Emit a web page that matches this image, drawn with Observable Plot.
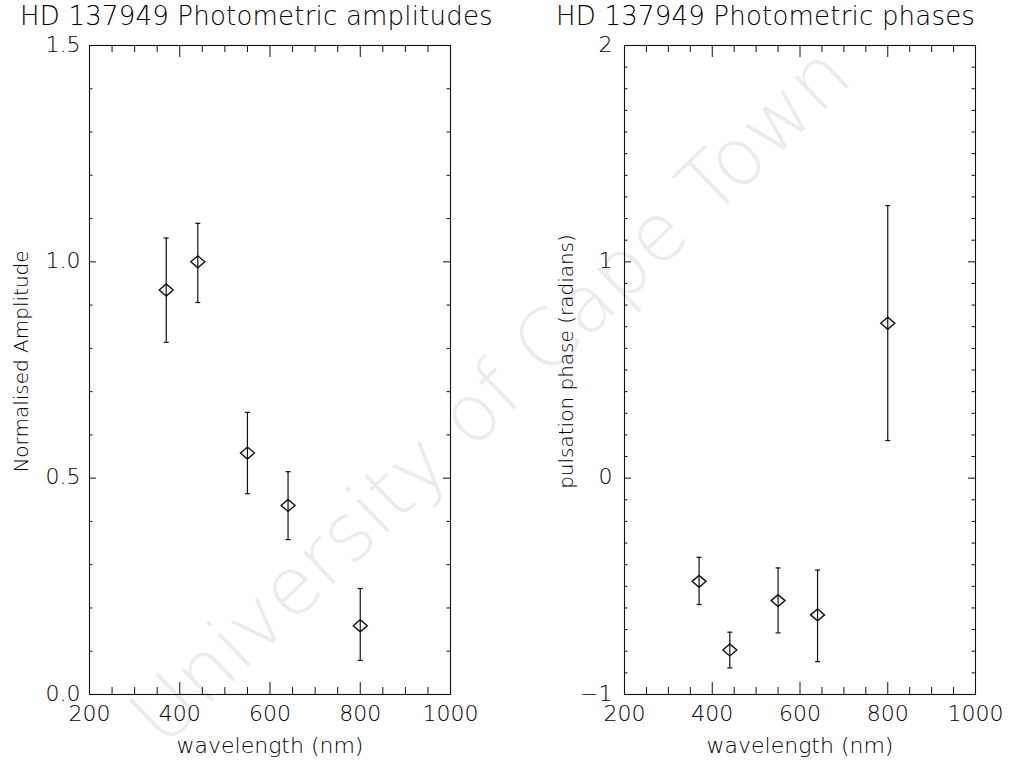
<!DOCTYPE html>
<html>
<head>
<meta charset="utf-8">
<script src="https://cdn.jsdelivr.net/npm/d3@7"></script>
<script src="https://cdn.jsdelivr.net/npm/@observablehq/plot@0.6"></script>
<style>
  html, body { margin: 0; padding: 0; background: #fff; }
  #wrap { position: relative; width: 1035px; height: 764px; overflow: hidden; background: #fff;
          font-family: "DejaVu Sans", sans-serif; color: #000; }
  .title { position: absolute; top: 4px; font-size: 26px; line-height: 24px; height: 24px; font-weight: 300; white-space: nowrap; letter-spacing: 0.2px; color: #000; }
  .wm { position: absolute; left: 490px; top: 395px; transform: translate(-50%, -50%) rotate(-44deg);
        font-size: 80px; color: #ececec; white-space: nowrap; font-family: "DejaVu Sans", sans-serif; font-weight: 300; z-index: 0; }
  .panel { position: absolute; top: 0; z-index: 1; }
  .panel svg { background: transparent !important; }
</style>
</head>
<body>
<div id="wrap">
  <div class="wm">University of Cape Town</div>
  <div class="title" style="left:20px;">HD 137949 Photometric amplitudes</div>
  <div class="title" style="left:556px;">HD 137949 Photometric phases</div>
  <div id="p1" class="panel" style="left:0px;"></div>
  <div id="p2" class="panel" style="left:505px;"></div>
</div>
<script>
// ---- data ----
const wavelengths = [370, 440, 550, 640, 800];
const amplitude   = [0.935, 1.000, 0.558, 0.437, 0.159];
const ampLow      = [0.814, 0.906, 0.464, 0.358, 0.079];
const ampHigh     = [1.055, 1.089, 0.652, 0.515, 0.245];
const phase       = [-0.477, -0.794, -0.566, -0.632, 0.716];
const phaseLow    = [-0.584, -0.877, -0.715, -0.848, 0.174];
const phaseHigh   = [-0.366, -0.712, -0.415, -0.425, 1.260];

const xTickLabels = [200, 400, 600, 800, 1000];
const ampTickLabels = [0, 0.5, 1.0, 1.5];
const phaseTickLabels = [-1, 0, 1, 2];

// ---- helpers ----
const diamond = { draw(ctx) { ctx.moveTo(-7, 0); ctx.lineTo(0, -6); ctx.lineTo(7, 0); ctx.lineTo(0, 6); ctx.closePath(); } };
const cap = { draw(ctx) { ctx.moveTo(-2.5, 0); ctx.lineTo(2.5, 0); } };

const H = 764, MT = 45, MB = 70;
const innerH = H - MT - MB;
const fontFamily = "DejaVu Sans, sans-serif";

function panel({el, width, marginLeft, marginRight, yDomain, yMajor, yMinorStep, yFmt, lo, v, hi, labelPad}) {
  const innerW = width - marginLeft - marginRight;
  const rows = wavelengths.map((w, i) => ({w, lo: lo[i], v: v[i], hi: hi[i]}));
  const xMinor = d3.range(200, 1000.001, 50).filter(d => !xTickLabels.includes(d));
  const yMinor = d3.range(yDomain[0], yDomain[1] + 1e-9, yMinorStep)
    .map(d => +d.toFixed(3)).filter(d => !yMajor.some(m => Math.abs(m - d) < 1e-6));
  const chart = Plot.plot({
    width, height: H, marginLeft, marginRight, marginTop: MT, marginBottom: MB,
    style: {fontFamily, fontSize: "22px", color: "#000", background: "transparent", overflow: "visible"},
    x: {domain: [200, 1000]},
    y: {domain: yDomain},
    marks: [
      Plot.frame({stroke: "#111", strokeWidth: 1.1}),
      // x ticks bottom & top (inward)
      Plot.tickX(xTickLabels, {x: d => d, insetTop: innerH - 12, stroke: "#111"}),
      Plot.tickX(xMinor, {x: d => d, insetTop: innerH - 7, stroke: "#111"}),
      Plot.tickX(xTickLabels, {x: d => d, insetBottom: innerH - 12, stroke: "#111"}),
      Plot.tickX(xMinor, {x: d => d, insetBottom: innerH - 7, stroke: "#111"}),
      // y ticks left & right (inward)
      Plot.tickY(yMajor, {y: d => d, insetRight: innerW - 7, stroke: "#111"}),
      Plot.tickY(yMinor, {y: d => d, insetRight: innerW - 3.5, stroke: "#111"}),
      Plot.tickY(yMajor, {y: d => d, insetLeft: innerW - 7, stroke: "#111"}),
      Plot.tickY(yMinor, {y: d => d, insetLeft: innerW - 3.5, stroke: "#111"}),
      // axis labels
      Plot.axisX({ticks: xTickLabels, tickSize: 0, tickPadding: 11, tickFormat: d3.format("d"), fontSize: 22, fontWeight: 300,
                  fill: "#000", label: "wavelength (nm)", labelAnchor: "center", labelArrow: "none", labelOffset: 58}),
      Plot.axisY({ticks: yMajor, tickSize: 0, tickPadding: labelPad, tickFormat: yFmt, fontSize: 22, fontWeight: 300,
                  fill: "#000", dy: -1, label: null}),
      // error bars
      Plot.ruleX(rows, {x: "w", y1: "lo", y2: "hi", stroke: "#111", strokeWidth: 1.2}),
      Plot.dot(rows, {x: "w", y: "lo", symbol: cap, stroke: "#111", strokeWidth: 1.2}),
      Plot.dot(rows, {x: "w", y: "hi", symbol: cap, stroke: "#111", strokeWidth: 1.2}),
      Plot.dot(rows, {x: "w", y: "v", symbol: diamond, stroke: "#111", fill: "none", strokeWidth: 1.4})
    ]
  });
  document.getElementById(el).appendChild(chart);
  return chart;
}

panel({el: "p1", width: 505, marginLeft: 89, marginRight: 55, yDomain: [0, 1.5],
       yMajor: ampTickLabels, yMinorStep: 0.1, yFmt: d3.format(".1f"), lo: ampLow, v: amplitude, hi: ampHigh, labelPad: 9});
panel({el: "p2", width: 530, marginLeft: 119, marginRight: 60, yDomain: [-1, 2],
       yMajor: phaseTickLabels, yMinorStep: 0.1, yFmt: d3.format("d"), lo: phaseLow, v: phase, hi: phaseHigh, labelPad: 12});

// rotated y-axis titles as text in the SVGs
function yTitle(el, text, x) {
  const svg = d3.select("#" + el).select("svg");
  svg.append("text")
    .attr("transform", `translate(${x},${MT + innerH / 2 - 8}) rotate(-90)`)
    .attr("text-anchor", "middle")
    .attr("dominant-baseline", "middle")
    .attr("font-size", 20).attr("font-weight", 300).attr("fill", "#000")
    .attr("font-family", fontFamily)
    .text(text);
}
yTitle("p1", "Normalised Amplitude", 22);
yTitle("p2", "pulsation phase (radians)", 62);
</script>
</body>
</html>
